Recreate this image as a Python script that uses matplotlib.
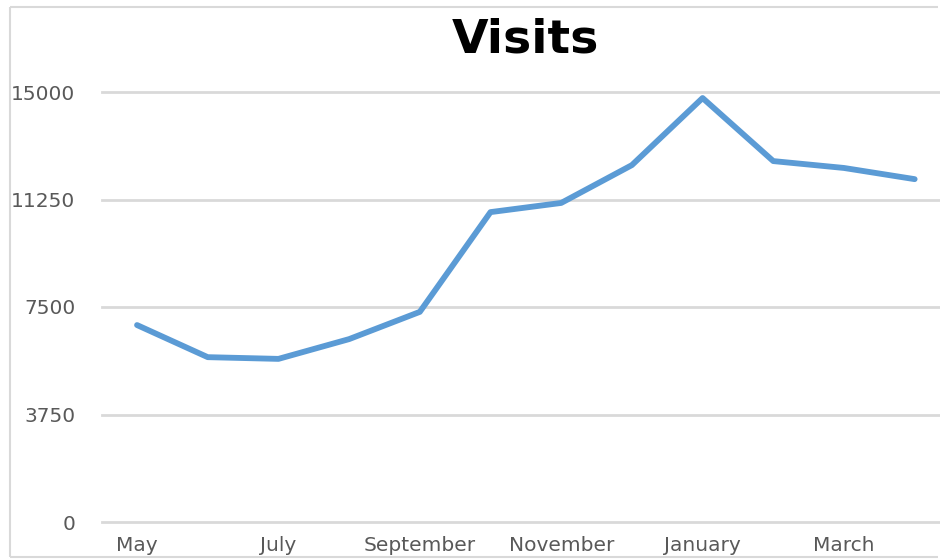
import matplotlib
matplotlib.use("Agg")
import matplotlib.pyplot as plt
from matplotlib.lines import Line2D

months = ["May", "June", "July", "August", "September", "October", "November",
          "December", "January", "February", "March", "April"]
visits = [6870, 5750, 5690, 6380, 7330, 10810, 11130, 12450, 14790, 12590, 12350, 11960]
yticks = [0, 3750, 7500, 11250, 15000]

W, H = 940, 559
fig = plt.figure(figsize=(W / 100, H / 100), dpi=100)

# chart area border (open at the right, like a cropped screenshot)
bx0, bx1, by0, by1 = 10 / W, 1 - 2 / W, 2 / H, 1 - 7 / H
for xs, ys in [((bx0, bx1), (by1, by1)), ((bx0, bx0), (by0, by1)), ((bx0, bx1), (by0, by0))]:
    fig.add_artist(Line2D(xs, ys, transform=fig.transFigure, color="#d9d9d9",
                          linewidth=1.5, solid_capstyle="butt"))

left, right = 101.7, 950
bottom, top = H - 522, H - 92
ax = fig.add_axes([left / W, bottom / H, (right - left) / W, (top - bottom) / H])

x = list(range(len(months)))
ax.plot(x, visits, color="#5b9bd5", linewidth=4.2, solid_joinstyle="round",
        solid_capstyle="round", clip_on=False, zorder=3)

ax.set_xlim(-0.5, len(months) - 0.5)
ax.set_ylim(0, 15000)
ax.set_yticks(yticks)
ax.set_yticklabels([str(v) for v in yticks])
ax.set_xticks(x[::2])
ax.set_xticklabels(months[::2])
ax.grid(axis="y", color="#d9d9d9", linewidth=2)
for gl in ax.get_ygridlines():
    gl.set_clip_on(False)
ax.set_axisbelow(True)
for s in ax.spines.values():
    s.set_visible(False)
ax.tick_params(axis="both", length=0, labelsize=14.5, labelcolor="#595959")
ax.tick_params(axis="y", pad=19)
ax.tick_params(axis="x", pad=10)

fig.text(525 / W, 1 - 40 / H, "Visits", ha="center", va="center",
         fontsize=34, fontweight="bold", color="black")

fig.savefig("out.png", dpi=100)
